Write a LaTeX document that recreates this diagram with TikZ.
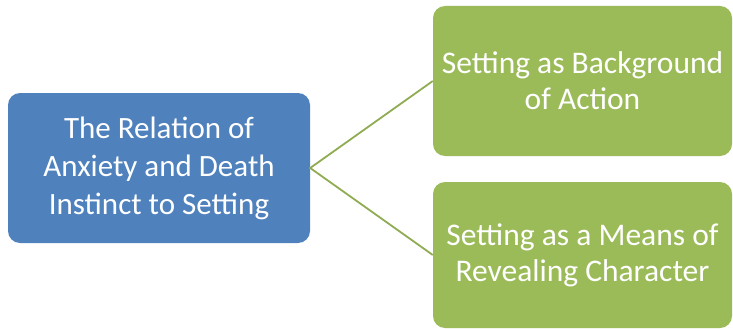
\documentclass[tikz,border=0pt]{standalone}
\usepackage{fontspec}
\setmainfont{Carlito}
\definecolor{topicblue}{HTML}{4F81BD}
\definecolor{subgreen}{HTML}{9BBB59}
\begin{document}
\begin{tikzpicture}[x=1pt,y=-1pt,
  topic/.style={draw=none,fill=topicblue,rounded corners=12pt,text=white,align=center,
    inner sep=0pt,font=\fontsize{31}{38}\selectfont},
  sub/.style={draw=none,fill=subgreen,rounded corners=12pt,text=white,align=center,
    inner sep=0pt,minimum width=299pt,font=\fontsize{31.5}{36}\selectfont},
  link/.style={draw=subgreen!92!black,line width=1.8pt}]
\useasboundingbox (0,0) rectangle (733,329);
\node[topic,minimum width=302pt,minimum height=150pt] (relation) at (159,168)
  {The Relation of\\Anxiety and Death\\Instinct to Setting};
\node[sub,minimum height=150pt] (background) at (582.5,81)
  {Setting as Background\\of Action};
\node[sub,minimum height=146pt] (character) at (582.5,255)
  {Setting as a Means of\\Revealing Character};
\coordinate (fork) at (relation.east);
\draw[link] (background.west) -- (fork) -- (character.west);
\end{tikzpicture}
\end{document}
